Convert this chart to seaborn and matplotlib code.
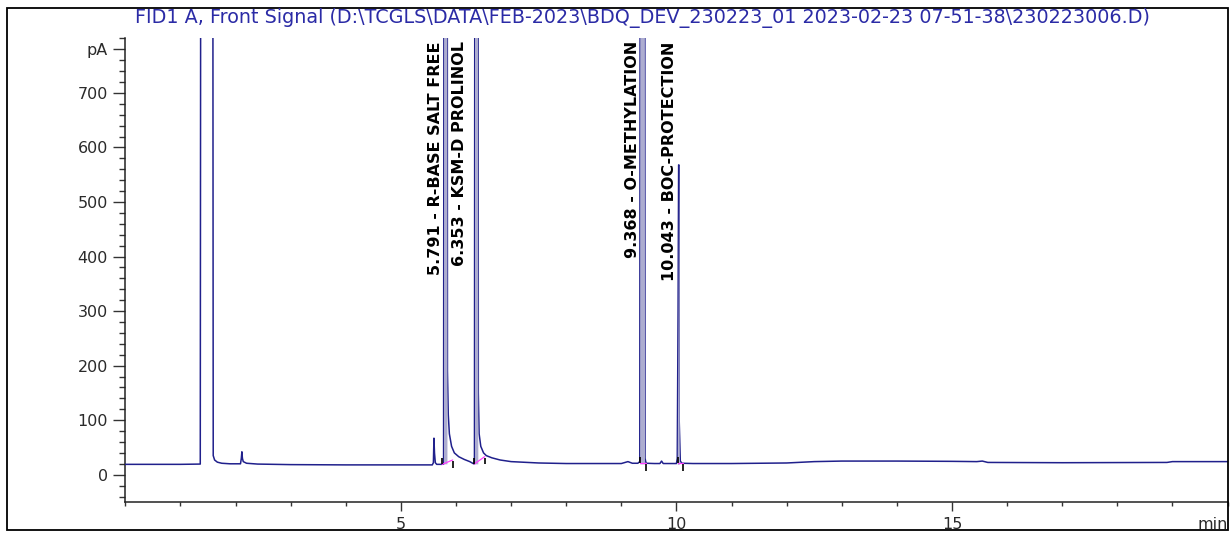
import matplotlib
matplotlib.use("Agg")
import matplotlib.pyplot as plt
import matplotlib.patches as mpatches
from matplotlib.ticker import FixedLocator, MultipleLocator
import numpy as np
import pandas as pd
import seaborn as sns

# ---- chromatogram trace: retention time (min) and detector signal (pA) ----
trace_time = [
    0.00, 1.00, 1.36, 1.372, 1.585, 1.595, 1.62, 1.67, 1.75, 1.90,
    2.09, 2.105, 2.115, 2.125, 2.14, 2.20, 2.40, 3.00, 4.00, 5.00,
    5.57, 5.59, 5.60, 5.61, 5.625, 5.65, 5.74, 5.775, 5.785, 5.84,
    5.845, 5.86, 5.88, 5.92, 5.97, 6.05, 6.15, 6.25, 6.32, 6.335,
    6.345, 6.40, 6.405, 6.42, 6.45, 6.50, 6.55, 6.65, 6.80, 7.00,
    7.50, 8.00, 8.50, 9.00, 9.12, 9.20, 9.30, 9.335, 9.345, 9.425,
    9.43, 9.45, 9.60, 9.70, 9.73, 9.76, 10.00, 10.015, 10.03, 10.04,
    10.045, 10.05, 10.07, 10.10, 10.30, 11.00, 12.00, 12.50, 13.00, 14.00,
    15.00, 15.45, 15.55, 15.65, 17.00, 18.90, 19.00, 20.00,
]
trace_signal = [
    19.0, 19.0, 19.5, 1500, 1500, 35.0, 27.0, 23.0, 21.0, 20.0,
    20.0, 30.0, 42.0, 30.0, 24.0, 21.0, 19.5, 18.5, 18.0, 18.0,
    18.0, 22.0, 67.0, 40.0, 22.0, 19.0, 19.0, 19.5, 1500, 1500,
    190.0, 110.0, 75.0, 52.0, 40.0, 33.0, 28.0, 24.0, 20.0, 20.0,
    1500, 1500, 150.0, 75.0, 52.0, 40.0, 35.0, 31.0, 27.0, 24.0,
    21.5, 20.5, 20.5, 20.5, 24.0, 21.0, 21.0, 24.0, 1500, 1500,
    30.0, 21.0, 20.5, 20.5, 25.0, 20.5, 20.5, 30.0, 300.0, 568.0,
    568.0, 100.0, 25.0, 21.0, 20.5, 20.5, 21.5, 24.0, 25.0, 25.0,
    24.5, 24.0, 25.0, 22.5, 22.0, 22.5, 24.0, 24.0,
]

# ---- integrated peaks ----
peak_rt = [5.791, 6.353, 9.368, 10.043]
peak_names = ["R-BASE SALT FREE", "KSM-D PROLINOL", "O-METHYLATION", "BOC-PROTECTION"]
peak_core_start = [5.785, 6.345, 9.345, 10.015]
peak_core_end = [5.845, 6.405, 9.43, 10.05]
# integration baseline: start/end time and signal level
int_start_t = [5.75, 6.33, 9.34, 10.02]
int_start_v = [19.0, 19.5, 21.0, 21.0]
int_end_t = [5.94, 6.52, 9.44, 10.12]
int_end_v = [27.0, 33.0, 21.0, 21.0]

# ---- axis ticks ----
x_major = [5, 10, 15]
x_major_labels = ["5", "10", "15"]
y_major = [0, 100, 200, 300, 400, 500, 600, 700, 780]
y_major_labels = ["0", "100", "200", "300", "400", "500", "600", "700", "pA"]

title_text = ("FID1 A, Front Signal (D:\\TCGLS\\DATA\\FEB-2023\\BDQ_DEV_230223_01 "
              "2023-02-23 07-51-38\\230223006.D)")

NAVY = "#20208c"
LAVENDER = "#adadd0"
MAGENTA = "#ff40ff"
TEXT_GREY = "#2a2a2a"

sns.set_theme(style="ticks")
plt.rcParams["font.family"] = ["DejaVu Sans"]

fig = plt.figure(figsize=(12.31, 5.33), dpi=100)
ax = fig.add_axes([0.1018, 0.0582, 0.8954, 0.8698])

df = pd.DataFrame({"time": trace_time, "signal": trace_signal})
t = np.asarray(trace_time)
s = np.asarray(trace_signal)

sns.lineplot(data=df, x="time", y="signal", ax=ax, color=NAVY, linewidth=1.1,
             estimator=None, sort=False, zorder=3)

# shaded peak cores
for a, b in zip(peak_core_start, peak_core_end):
    m = (t >= a - 1e-9) & (t <= b + 1e-9)
    ax.fill_between(t[m], s[m], 19.0, color=LAVENDER, linewidth=0, zorder=4)

# integration baselines and start/end markers
for ts, vs, te, ve in zip(int_start_t, int_start_v, int_end_t, int_end_v):
    ax.plot([ts, te], [vs, ve], color=MAGENTA, linewidth=0.9, zorder=5)
    ax.vlines(ts, vs, vs + 11, color="black", linewidth=1.2, zorder=6)
    ax.vlines(te, ve - 14, ve - 2, color="black", linewidth=1.2, zorder=6)

# peak labels, rotated and hanging from the top of the plot
label_shift_px = [0, -7, 0, 0]
for rt, name, dx in zip(peak_rt, peak_names, label_shift_px):
    ax.annotate(f"{rt:.3f} - {name}", xy=(rt, 800), xycoords="data",
                xytext=(dx * 0.72 - 1, -2), textcoords="offset points",
                rotation=90, ha="right", va="top", fontsize=11.5,
                fontweight="bold", color="black", zorder=7)

ax.set_xlim(0, 20)
ax.set_ylim(-50, 800)
ax.xaxis.set_major_locator(FixedLocator(x_major))
ax.set_xticklabels(x_major_labels)
ax.xaxis.set_minor_locator(MultipleLocator(1))
ax.yaxis.set_major_locator(FixedLocator(y_major))
ax.set_yticklabels(y_major_labels)
ax.yaxis.set_minor_locator(MultipleLocator(20))

ax.tick_params(axis="x", which="major", length=6.5, width=1, color="#333333",
               direction="out", pad=4, labelsize=11.5, labelcolor=TEXT_GREY)
ax.tick_params(axis="x", which="minor", length=3, width=1, color="#333333", direction="out")
ax.tick_params(axis="y", which="major", length=8.6, width=1, color="#333333",
               direction="out", pad=4, labelsize=11.5, labelcolor=TEXT_GREY)
ax.tick_params(axis="y", which="minor", length=4.3, width=1, color="#333333", direction="out")

ax.set_xlabel("")
ax.set_ylabel("")
sns.despine(ax=ax)
for side in ("left", "bottom"):
    ax.spines[side].set_color("#222222")
    ax.spines[side].set_linewidth(1.1)

ax.text(1.0, -0.033, "min", transform=ax.transAxes, ha="right", va="top",
        fontsize=11.5, color=TEXT_GREY)

fig.text(0.522, 0.966, title_text, ha="center", va="center", fontsize=13.8,
         color="#2b2ba6")

# outer frame around the whole printout
frame = mpatches.Rectangle((0.0057, 0.0047), 0.9915, 0.9803, transform=fig.transFigure,
                           fill=False, edgecolor="black", linewidth=1.3, clip_on=False)
fig.patches.append(frame)

fig.savefig("out.png", dpi=100, facecolor="white")
